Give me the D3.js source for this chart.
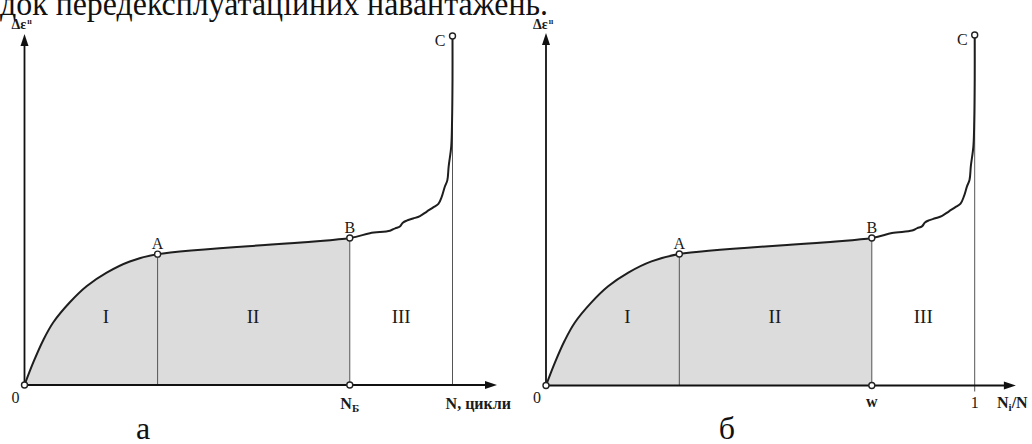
<!DOCTYPE html>
<html>
<head>
<meta charset="utf-8">
<script src="https://cdn.jsdelivr.net/npm/d3@7"></script>
<style>
  body { margin: 0; background: #fff; }
  svg { display: block; }
</style>
</head>
<body>
<script>
// curve of creep strain vs. relative life (shared by both panels), x: 0..1 = failure, y: 0..1 = point C
const curveX = [0, 0.021, 0.044, 0.067, 0.106, 0.145, 0.192, 0.246, 0.311, 0.76, 0.807, 0.854, 0.866, 0.877, 0.884, 0.893, 0.908, 0.924, 0.94, 0.955, 0.967, 0.975, 0.982, 0.988, 0.991, 0.997, 0.999, 1.0, 1.0];
const curveY = [0, 0.066, 0.129, 0.179, 0.237, 0.283, 0.322, 0.354, 0.375, 0.421, 0.435, 0.442, 0.449, 0.454, 0.465, 0.471, 0.477, 0.484, 0.497, 0.509, 0.519, 0.54, 0.568, 0.587, 0.626, 0.683, 0.759, 0.874, 1.0];

const pointNames = ["A", "B", "C"];
const pointX = [0.311, 0.76, 1.0];
const pointY = [0.375, 0.421, 1.0];

const zoneNames = ["I", "II", "III"];
const zoneX = [0.19, 0.534, 0.88];
const zoneY = 0.198;

const panelNames = ["а", "б"];
const headerText = "док передексплуатаційних навантажень.";

const serif = "'Liberation Serif', 'Times New Roman', 'DejaVu Serif', serif";
const width = 1032, height = 444;
const svg = d3.select("body").append("svg")
  .attr("width", width)
  .attr("height", height)
  .attr("font-family", serif)
  .style("font-family", serif);

// cut-off line of text above the figure
svg.append("text")
  .attr("x", 0).attr("y", 15)
  .attr("textLength", 548)
  .attr("lengthAdjust", "spacingAndGlyphs")
  .attr("fill", "#111")
  .style("font-size", "33px")
  .text(headerText);

const panels = [
  { x0: 24.5, x1: 452.5, y0: 385, y1: 36, xEnd: 1.104, cTick: 0, cap: panelNames[0], capX: 143 },
  { x0: 546, x1: 974.7, y0: 385.5, y1: 35, xEnd: 1.096, cTick: 6, cap: panelNames[1], capX: 727 }
];

panels.forEach((p, pi) => {
  const x = d3.scaleLinear().domain([0, 1]).range([p.x0, p.x1]);
  const y = d3.scaleLinear().domain([0, 1]).range([p.y0, p.y1]);
  const g = svg.append("g").attr("fill", "#1a1a1a");
  const pts = curveX.map((v, i) => [v, curveY[i]]);
  const bIdx = curveX.indexOf(pointX[1]);

  // shaded area under stages I and II
  g.append("path")
    .datum(pts.slice(0, bIdx + 1))
    .attr("fill", "#dcdcdc")
    .attr("d", d3.area().x(d => x(d[0])).y0(y(0)).y1(d => y(d[1])).curve(d3.curveCatmullRom.alpha(0.5)));

  // vertical dividers at A, B, C
  g.selectAll("line.div")
    .data(pointNames)
    .join("line")
    .attr("class", "div")
    .attr("x1", (d, i) => x(pointX[i])).attr("x2", (d, i) => x(pointX[i]))
    .attr("y1", (d, i) => y(pointY[i]))
    .attr("y2", (d, i) => y(0) + (i === 2 ? p.cTick : 0))
    .attr("stroke", "#555")
    .attr("stroke-width", 1);

  // axes with arrowheads
  const yTop = y(1.006);
  const xTip = x(p.xEnd);
  g.append("line")
    .attr("x1", x(0)).attr("x2", x(0))
    .attr("y1", y(0)).attr("y2", yTop + 6)
    .attr("stroke", "#111").attr("stroke-width", 1.8);
  g.append("line")
    .attr("x1", x(0)).attr("x2", xTip - 6)
    .attr("y1", y(0)).attr("y2", y(0))
    .attr("stroke", "#111").attr("stroke-width", 1.8);
  g.append("path")
    .attr("d", `M${x(0)},${yTop} L${x(0) - 4},${yTop + 12} L${x(0) + 4},${yTop + 12} Z`)
    .attr("fill", "#111");
  g.append("path")
    .attr("d", `M${xTip},${y(0)} L${xTip - 12},${y(0) - 4} L${xTip - 12},${y(0) + 4} Z`)
    .attr("fill", "#111");

  // curve
  g.append("path")
    .datum(pts)
    .attr("fill", "none")
    .attr("stroke", "#1e1e1e")
    .attr("stroke-width", 2)
    .attr("d", d3.line().x(d => x(d[0])).y(d => y(d[1])).curve(d3.curveCatmullRom.alpha(0.5)));

  // marker circles: origin, A, B, C, foot of B
  const circ = [[0, 0], [pointX[0], pointY[0]], [pointX[1], pointY[1]], [pointX[2], pointY[2]], [pointX[1], 0]];
  g.selectAll("circle")
    .data(circ)
    .join("circle")
    .attr("cx", d => x(d[0])).attr("cy", d => y(d[1]))
    .attr("r", 3)
    .attr("fill", "#fff")
    .attr("stroke", "#222")
    .attr("stroke-width", 1.4);

  // point labels
  g.selectAll("text.pt")
    .data(pointNames)
    .join("text")
    .attr("class", "pt")
    .attr("x", (d, i) => i === 2 ? x(pointX[i]) - 7 : x(pointX[i]))
    .attr("y", (d, i) => y(pointY[i]) - (i === 2 ? -10 : 5))
    .attr("text-anchor", (d, i) => i === 2 ? "end" : "middle")
    .style("font-size", "16px")
    .text(d => d);

  // stage labels
  g.selectAll("text.zone")
    .data(zoneNames)
    .join("text")
    .attr("class", "zone")
    .attr("x", (d, i) => x(zoneX[i]))
    .attr("y", y(zoneY) + 7)
    .attr("text-anchor", "middle")
    .style("font-size", "19px")
    .text(d => d);

  // y axis title
  const yt = g.append("text")
    .attr("x", x(0) - 13).attr("y", 29)
    .style("font-size", "14px").style("font-weight", "bold");
  yt.append("tspan").text("Δε");
  yt.append("tspan").attr("dx", 1).attr("dy", -5).style("font-size", "8px").text("ıı");

  // origin
  g.append("text")
    .attr("x", x(0) - 9).attr("y", 403)
    .attr("text-anchor", "middle")
    .style("font-size", "16px")
    .text("0");

  if (pi === 0) {
    const nb = g.append("text")
      .attr("x", x(pointX[1])).attr("y", 409)
      .attr("text-anchor", "middle")
      .style("font-size", "16px").style("font-weight", "bold");
    nb.append("tspan").text("N");
    nb.append("tspan").attr("dy", 3).style("font-size", "11px").text("Б");
    g.append("text")
      .attr("x", 511).attr("y", 409)
      .attr("text-anchor", "end")
      .style("font-size", "16px").style("font-weight", "bold")
      .text("N, цикли");
  } else {
    g.append("text")
      .attr("x", x(pointX[1])).attr("y", 407)
      .attr("text-anchor", "middle")
      .style("font-size", "16px").style("font-weight", "bold")
      .text("w");
    g.append("text")
      .attr("x", x(1)).attr("y", 408)
      .attr("text-anchor", "middle")
      .style("font-size", "16px")
      .text("1");
    const ni = g.append("text")
      .attr("x", 997).attr("y", 408)
      .style("font-size", "16px").style("font-weight", "bold");
    ni.append("tspan").text("N");
    ni.append("tspan").attr("dy", 3).style("font-size", "11px").text("i");
    ni.append("tspan").attr("dy", -3).text("/N");
  }

  // panel caption
  svg.append("text")
    .attr("x", p.capX).attr("y", 439)
    .attr("text-anchor", "middle")
    .attr("fill", "#111")
    .style("font-size", "32px")
    .text(p.cap);
});
</script>
</body>
</html>
